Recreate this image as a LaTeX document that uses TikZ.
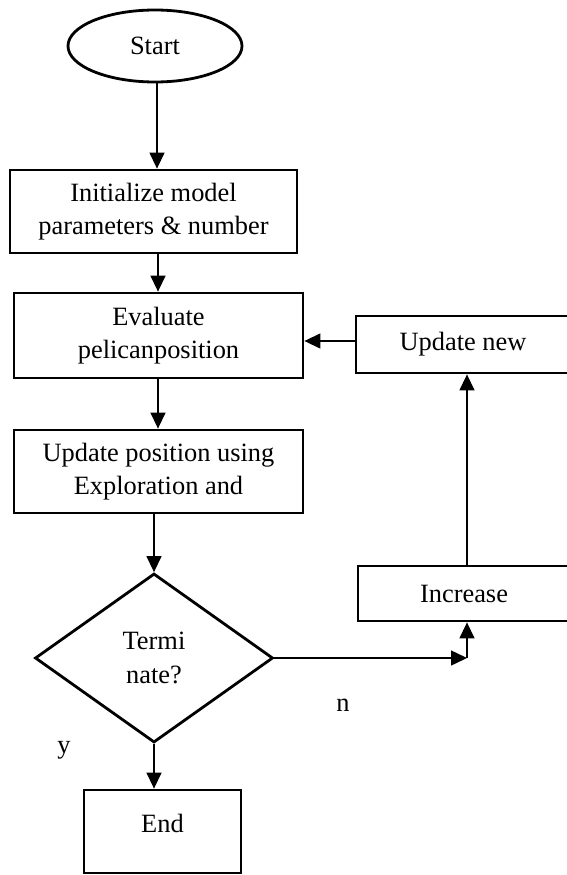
\documentclass[tikz,border=0pt]{standalone}
\usepackage{fontspec}
\setmainfont{Liberation Serif}
\usetikzlibrary{arrows.meta,shapes.geometric}
\begin{document}
\begin{tikzpicture}[x=1pt,y=-1pt,
  every node/.style={font=\fontsize{26.4}{33.5}\selectfont},
  boxnode/.style={draw,rectangle,line width=2.8pt,inner sep=0pt,align=center},
  conn/.style={line width=1.4pt,-{Triangle[length=16pt,width=15pt]}},
  plain/.style={draw=none,inner sep=0pt}]
\useasboundingbox (0,0) rectangle (567,875);
\node[draw,ellipse,line width=2.8pt,inner sep=0pt,minimum width=174pt,minimum height=72pt] (start) at (155,46) {Start};
\node[boxnode,minimum width=287pt,minimum height=83pt] (init) at (153.5,211.5) {Initialize model\\parameters \& number};
\node[boxnode,minimum width=289pt,minimum height=85pt] (eval) at (158.5,335.5) {Evaluate\\pelicanposition};
\node[boxnode,minimum width=289pt,minimum height=83pt] (upd) at (158.5,471.5) {Update position using\\Exploration and};
\node[draw,diamond,line width=2.8pt,inner sep=0pt,minimum width=238pt,minimum height=169pt,aspect=1.408,align=center] (dec) at (154,658) {Termi\\nate?};
\node[boxnode,minimum width=157pt,minimum height=83pt,text depth=16pt] (fin) at (162.5,831.5) {End};
\node[boxnode,minimum width=214pt,minimum height=57pt] (unew) at (463,344.5) {Update new};
\node[boxnode,minimum width=212pt,minimum height=55pt] (inc) at (464,593.5) {Increase};
\node[plain] (nlab) at (343,705) {n};
\node[plain] (ylab) at (64,750) {y};
\coordinate (corner) at (467,658);
\draw[conn] (start.south -| 157,0) -- (157,0 |- init.north);
\draw[conn] (158,0 |- init.south) -- (158,0 |- eval.north);
\draw[conn] (158,0 |- eval.south) -- (158,0 |- upd.north);
\draw[conn] (dec.north |- upd.south) -- (dec.north);
\draw[conn] (dec.south) -- (dec.south |- fin.north);
\draw[conn] (unew.west |- 0,341) -- (eval.east |- 0,341);
\draw[conn] (corner |- inc.north) -- (corner |- unew.south);
\draw[conn] (dec.east) -- (corner);
\draw[conn] (corner) -- (corner |- inc.south);
\end{tikzpicture}
\end{document}
